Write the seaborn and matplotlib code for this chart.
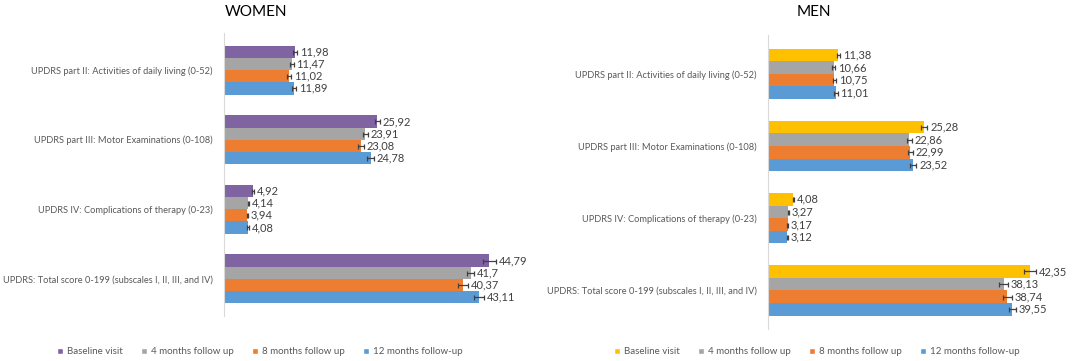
import pandas as pd
import seaborn as sns
import matplotlib.pyplot as plt
from matplotlib.patches import Patch

measures = ["UPDRS part II: Activities of daily living (0-52)",
            "UPDRS part III: Motor Examinations (0-108)",
            "UPDRS IV: Complications of therapy (0-23)",
            "UPDRS: Total score 0-199 (subscales I, II, III, and IV)"]
visits = ["Baseline visit", "4 months follow up", "8 months follow up", "12 months follow-up"]

# women means / error (half width) per visit
women_baseline = [11.98, 25.92, 4.92, 44.79]
women_4m = [11.47, 23.91, 4.14, 41.7]
women_8m = [11.02, 23.08, 3.94, 40.37]
women_12m = [11.89, 24.78, 4.08, 43.11]
women_err_baseline = [0.35, 0.4, 0.15, 1.1]
women_err_4m = [0.3, 0.45, 0.12, 0.6]
women_err_8m = [0.3, 0.5, 0.12, 0.85]
women_err_12m = [0.35, 0.55, 0.12, 0.85]

# men
men_baseline = [11.38, 25.28, 4.08, 42.35]
men_4m = [10.66, 22.86, 3.27, 38.13]
men_8m = [10.75, 22.99, 3.17, 38.74]
men_12m = [11.01, 23.52, 3.12, 39.55]
men_err_baseline = [0.25, 0.5, 0.1, 1.0]
men_err_4m = [0.25, 0.4, 0.1, 0.7]
men_err_8m = [0.25, 0.4, 0.1, 0.7]
men_err_12m = [0.25, 0.5, 0.1, 0.55]

women_colors = ["#8064A2", "#A5A5A5", "#ED7D31", "#5B9BD5"]
men_colors = ["#FFC000", "#A5A5A5", "#ED7D31", "#5B9BD5"]

sns.set_style("white")
plt.rcParams['font.family'] = ['Lato', 'DejaVu Sans']

fig = plt.figure(figsize=(10.84, 3.61), dpi=100)


def draw_panel(ax, series, errs, colors):
    rows = []
    for v, vals in zip(visits, series):
        for m, val in zip(measures, vals):
            rows.append({"measure": m, "visit": v, "value": val})
    df = pd.DataFrame(rows)
    sns.barplot(data=df, y="measure", x="value", hue="visit", hue_order=visits,
                order=measures, palette=colors, orient="h", width=0.7, saturation=1,
                errorbar=None, legend=False, linewidth=0, ax=ax)
    for cont, vals, err in zip(ax.containers, series, errs):
        ys = [p.get_y() + p.get_height() / 2 for p in cont]
        ax.errorbar(vals, ys, xerr=err, fmt="none", ecolor="#404040",
                    elinewidth=0.9, capsize=1.8, capthick=0.9)
        for val, y, e in zip(vals, ys, err):
            ax.annotate(f"{val:g}".replace(".", ","), (val + e, y),
                        xytext=(2, 0), textcoords="offset points",
                        va="center", ha="left", fontsize=8, color="#404040")
    ax.set_xlim(0, 50)
    ax.set_xlabel("")
    ax.set_ylabel("")
    ax.set_xticks([])
    sns.despine(ax=ax, top=True, right=True, bottom=True)
    ax.spines["left"].set_color("#D9D9D9")
    ax.tick_params(axis="y", length=0, pad=8, labelsize=6.7, labelcolor="#595959")


ax_w = fig.add_axes([0.2066, 0.1247, 0.273, 0.784])
draw_panel(ax_w, [women_baseline, women_4m, women_8m, women_12m],
           [women_err_baseline, women_err_4m, women_err_8m, women_err_12m], women_colors)

ax_m = fig.add_axes([0.7085, 0.0886, 0.285, 0.814])
draw_panel(ax_m, [men_baseline, men_4m, men_8m, men_12m],
           [men_err_baseline, men_err_4m, men_err_8m, men_err_12m], men_colors)

fig.text(256 / 1084, 1 - 12 / 361, "WOMEN", ha="center", va="center", fontsize=11, color="#000000")
fig.text(814 / 1084, 1 - 12 / 361, "MEN", ha="center", va="center", fontsize=11, color="#000000")

for colors, cx in [(women_colors, 260 / 1084), (men_colors, 817 / 1084)]:
    handles = [Patch(facecolor=c, label=v) for c, v in zip(colors, visits)]
    leg = fig.legend(handles=handles, loc="center", bbox_to_anchor=(cx, 1 - 352 / 361),
                     ncol=4, frameon=False, fontsize=7, handlelength=0.6, handleheight=0.6,
                     handletextpad=0.4, columnspacing=1.9)
    for t in leg.get_texts():
        t.set_color("#595959")

fig.savefig("out.png", dpi=100, facecolor="white")
